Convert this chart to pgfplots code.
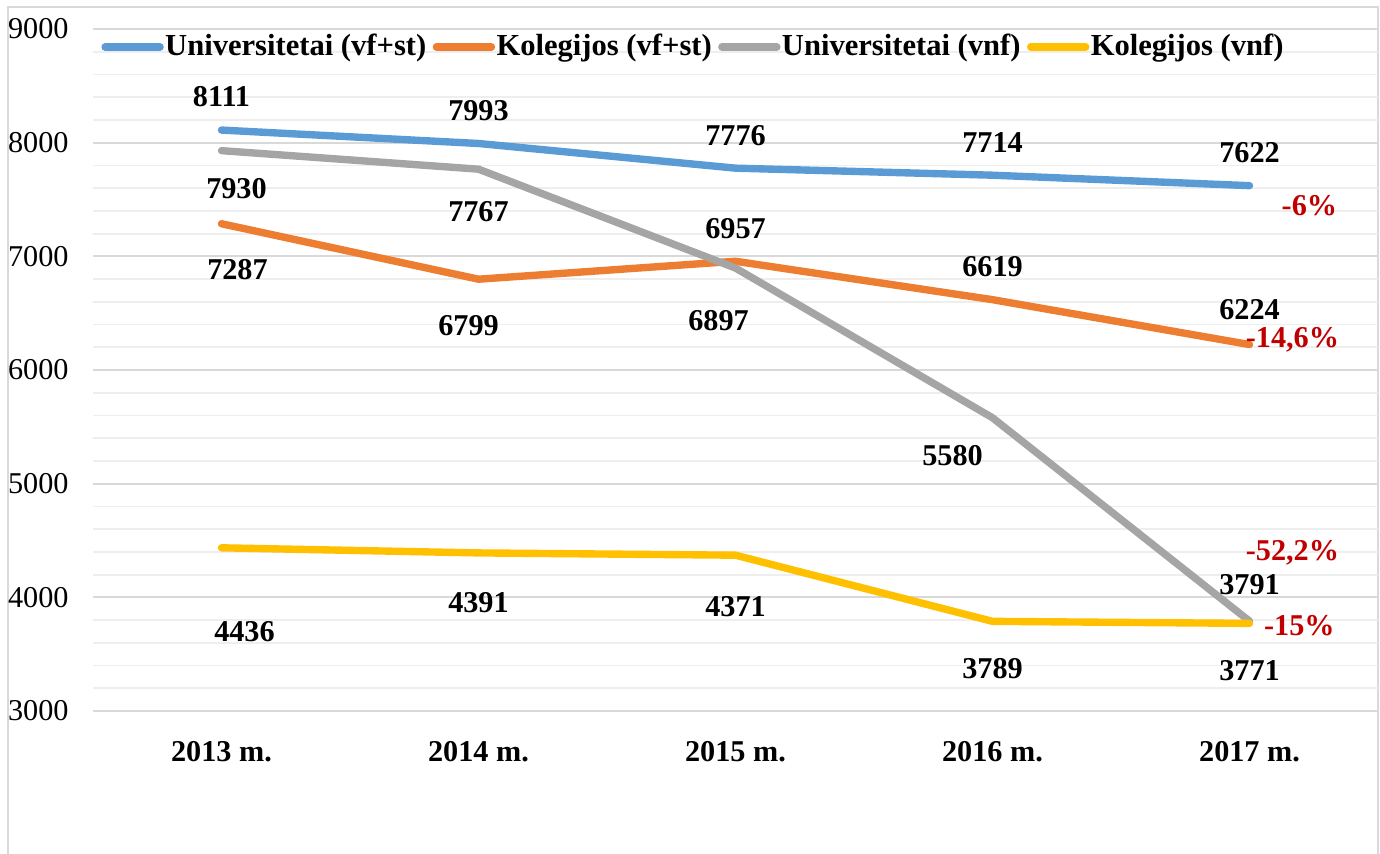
\documentclass[border=0pt]{standalone}
\usepackage{pgfplots}
\pgfplotsset{compat=1.18}
\usepackage{fontspec}
\setmainfont{Liberation Serif}
\definecolor{cblue}{HTML}{5B9BD5}
\definecolor{corange}{HTML}{ED7D31}
\definecolor{cgray}{HTML}{A5A5A5}
\definecolor{cgold}{HTML}{FFC000}
\definecolor{cred}{HTML}{C00000}
\definecolor{gmajor}{HTML}{D9D9D9}
\definecolor{gminor}{HTML}{EEEEEE}
\newcommand{\lblfont}{\bfseries\fontsize{8.6}{10}\selectfont}
\tikzset{
  lab/.style={font=\lblfont, inner sep=0pt},
  pct/.style={font=\lblfont, text=cred, inner sep=0pt},
}
\begin{document}
\begin{tikzpicture}
\useasboundingbox (0,0) rectangle (13.8,-8.53);
% chart frame (open at the bottom, it runs past the page)
\draw[gmajor, line width=0.5pt] (0.08,-8.6) -- (0.08,-0.07) -- (13.78,-0.07) -- (13.78,-8.6);
\begin{axis}[
  at={(0.93cm,-7.11cm)}, anchor=south west,
  width=12.85cm, height=6.82cm, scale only axis,
  xmin=-0.5, xmax=4.5, ymin=3000, ymax=9000,
  xtick={0,...,4},
  xticklabels={2013 m., 2014 m., 2015 m., 2016 m., 2017 m.},
  ytick={3000,4000,...,9000},
  yticklabels={3000,4000,5000,6000,7000,8000,9000},
  minor y tick num=4,
  ymajorgrids, yminorgrids,
  major grid style={gmajor, line width=0.5pt},
  minor grid style={gminor, line width=0.5pt},
  axis line style={draw=none},
  major tick style={draw=none}, minor tick style={draw=none},
  x tick label style={font=\lblfont, yshift=-0.18cm},
  y tick label style={font=\fontsize{8.6}{10}\selectfont, xshift=-0.12cm},
  legend style={at={(0.006,0.9736)}, anchor=west, draw=none, fill=none,
    legend columns=4, font=\bfseries\fontsize{8.7}{10}\selectfont, inner sep=0pt,
    /tikz/every even column/.append style={column sep=0.05cm},
    nodes={inner sep=0.4pt}},
  legend image code/.code={\draw[#1, line cap=round] (0cm,0cm) -- (0.55cm,0cm);},
  every axis plot/.append style={line width=2.1pt, line cap=round, line join=round, mark=none},
  clip=false,
]
\addplot[cblue]   coordinates {(0,8111) (1,7993) (2,7776) (3,7714) (4,7622)};
\addlegendentry{Universitetai (vf+st)}
\addplot[corange] coordinates {(0,7287) (1,6799) (2,6957) (3,6619) (4,6224)};
\addlegendentry{Kolegijos (vf+st)}
\addplot[cgray]   coordinates {(0,7930) (1,7767) (2,6897) (3,5580) (4,3791)};
\addlegendentry{Universitetai (vnf)}
\addplot[cgold]   coordinates {(0,4436) (1,4391) (2,4371) (3,3789) (4,3771)};
\addlegendentry{Kolegijos (vnf)}

% data labels
\node[lab, yshift=0.33cm] at (axis cs:0,8111) {8111};
\node[lab, yshift=0.33cm] at (axis cs:1,7993) {7993};
\node[lab, yshift=0.33cm] at (axis cs:2,7776) {7776};
\node[lab, yshift=0.33cm] at (axis cs:3,7714) {7714};
\node[lab, yshift=0.33cm] at (axis cs:4,7622) {7622};

\node[lab, yshift=-0.46cm, xshift=0.16cm] at (axis cs:0,7287) {7287};
\node[lab, yshift=-0.46cm, xshift=-0.10cm] at (axis cs:1,6799) {6799};
\node[lab, yshift=0.33cm] at (axis cs:2,6957) {6957};
\node[lab, yshift=0.33cm] at (axis cs:3,6619) {6619};
\node[lab, yshift=0.35cm] at (axis cs:4,6224) {6224};

\node[lab, yshift=-0.38cm, xshift=0.15cm] at (axis cs:0,7930) {7930};
\node[lab, yshift=-0.42cm] at (axis cs:1,7767) {7767};
\node[lab, yshift=-0.53cm, xshift=-0.17cm] at (axis cs:2,6897) {6897};
\node[lab, yshift=-0.38cm, xshift=-0.40cm] at (axis cs:3,5580) {5580};
\node[lab, yshift=0.36cm] at (axis cs:4,3791) {3791};

\node[lab, yshift=-0.84cm, xshift=0.23cm] at (axis cs:0,4436) {4436};
\node[lab, yshift=-0.50cm] at (axis cs:1,4391) {4391};
\node[lab, yshift=-0.51cm] at (axis cs:2,4371) {4371};
\node[lab, yshift=-0.47cm] at (axis cs:3,3789) {3789};
\node[lab, yshift=-0.47cm] at (axis cs:4,3771) {3771};

% change 2013-2017
\node[pct] at (axis cs:4.233,7450) {-6\%};
\node[pct] at (axis cs:4.167,6263) {-14,6\%};
\node[pct] at (axis cs:4.167,4390) {-52,2\%};
\node[pct] at (axis cs:4.194,3748) {-15\%};
\end{axis}
\end{tikzpicture}
\end{document}
